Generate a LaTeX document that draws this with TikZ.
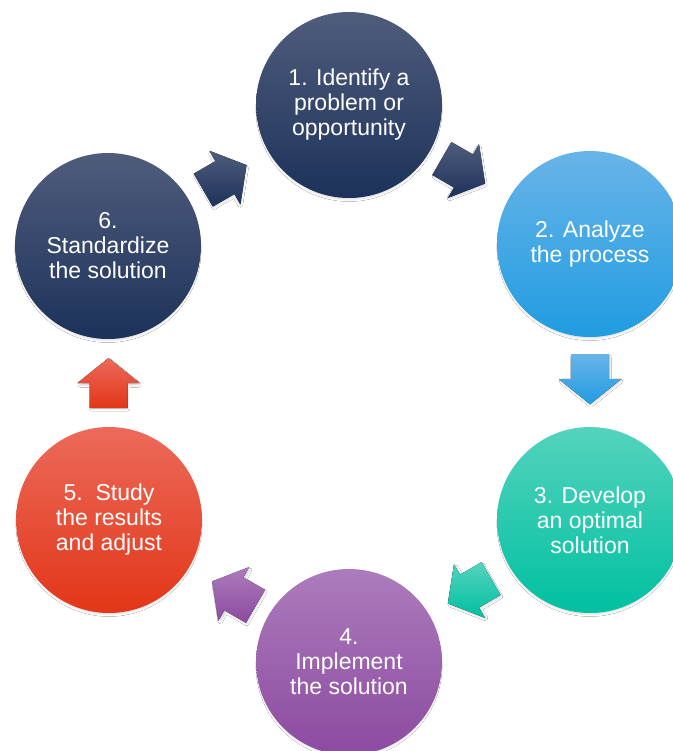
\documentclass[tikz,border=0pt]{standalone}
\usepackage{fontspec}
\setmainfont{Liberation Sans}
\usetikzlibrary{calc,shadows.blur}
\definecolor{navyT}{RGB}{80,92,124}
\definecolor{navyB}{RGB}{28,50,90}
\definecolor{blueT}{RGB}{104,180,232}
\definecolor{blueB}{RGB}{32,156,225}
\definecolor{tealT}{RGB}{84,211,190}
\definecolor{tealB}{RGB}{0,192,160}
\definecolor{purpT}{RGB}{172,124,188}
\definecolor{purpB}{RGB}{140,74,160}
\definecolor{redT}{RGB}{236,106,90}
\definecolor{redB}{RGB}{226,54,24}
\newcommand\blkarrow[4]{%
  \fill[top color=#3,bottom color=#4,arrowshadow]
    ($(#1)+({#2}:-25)+({#2+90}:19)$) -- ($(#1)+({#2+90}:19)$) --
    ($(#1)+({#2+90}:31)$) -- ($(#1)+({#2}:25)$) --
    ($(#1)+({#2-90}:31)$) -- ($(#1)+({#2-90}:19)$) --
    ($(#1)+({#2}:-25)+({#2-90}:19)$) -- cycle;}
\begin{document}
\begin{tikzpicture}[x=1bp,y=-1bp,
  stepcircle/.style={circle,minimum size=186bp,inner sep=0pt,text=white,
    align=center,font=\fontsize{23bp}{25bp}\selectfont,
    blur shadow={shadow xshift=0bp,shadow yshift=-3.5bp,shadow scale=0.97,shadow blur radius=3bp,shadow opacity=20}},
  arrowshadow/.style={blur shadow={shadow xshift=1bp,shadow yshift=-2bp,shadow scale=0.95,shadow blur radius=2.5bp,shadow opacity=20}}]
\useasboundingbox (0,0) rectangle (673,751);
\clip (0,0) rectangle (673,751);
\fill[white] (0,0) rectangle (673,751);

\node[stepcircle,top color=navyT,bottom color=navyB] (c1) at (349,105) {1. Identify a\\problem or\\opportunity};
\node[stepcircle,top color=blueT,bottom color=blueB] (c2) at (590,244) {2. Analyze\\the process};
\node[stepcircle,top color=tealT,bottom color=tealB] (c3) at (590,520) {3. Develop\\an optimal\\solution};
\node[stepcircle,top color=purpT,bottom color=purpB] (c4) at (349,662) {4.\\Implement\\the solution};
\node[stepcircle,top color=redT,bottom color=redB] (c5) at (109,520) {5.\ \ Study\\the results\\and adjust};
\node[stepcircle,top color=navyT,bottom color=navyB] (c6) at (108,246) {6.\\Standardize\\the solution};

\coordinate (a61) at ($(c6)!0.485!(c1)$);
\coordinate (a12) at ($(c1)!0.475!(c2)$);
\coordinate (a23) at ($(c2)!0.49!(c3)$);
\coordinate (a34) at ($(c3)!0.5!(c4)$);
\coordinate (a45) at ($(c4)!0.48!(c5)$);
\coordinate (a56) at ($(c5)!0.5!(c6)$);

\blkarrow{a61}{-30}{navyT}{navyB}
\blkarrow{a12}{30}{navyT}{navyB}
\blkarrow{a23}{90}{blueT}{blueB}
\blkarrow{a34}{150}{tealT}{tealB}
\blkarrow{a45}{-150}{purpT}{purpB}
\blkarrow{a56}{-90}{redT}{redB}
\end{tikzpicture}
\end{document}
